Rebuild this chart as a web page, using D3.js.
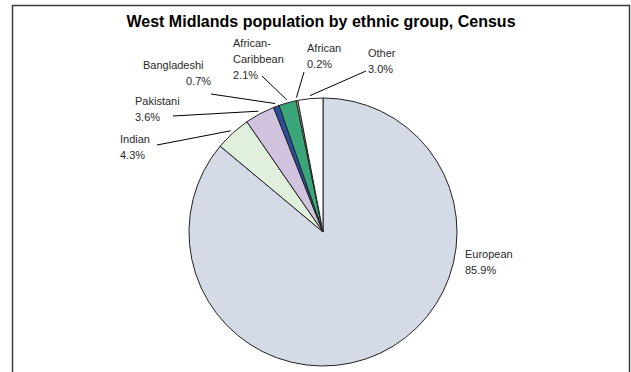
<!DOCTYPE html>
<html>
<head>
<meta charset="utf-8">
<script src="https://cdn.jsdelivr.net/npm/d3@7/dist/d3.min.js"></script>
<style>
  html, body { margin: 0; padding: 0; background: #fff; }
  svg { display: block; }
  text { font-family: "Liberation Sans", Arial, sans-serif; }
</style>
</head>
<body>
<svg id="chart" width="631" height="372"></svg>
<script>
// Census shares by ethnic group, clockwise from 12 o'clock
const categories = ["European", "Indian", "Pakistani", "Bangladeshi", "African-Caribbean", "African", "Other"];
const shares = [85.9, 4.3, 3.6, 0.7, 2.1, 0.2, 3.0];
const sliceColors = ["#d5dae7", "#e1efdd", "#d1c2de", "#2b4d9f", "#3aa67a", "#f6eaa3", "#ffffff"];

// Label placement: first-line x/baseline, value-line x, leader-line tip
const labelLayout = [
  { x: 465, y: 258, vx: 465, tipX: null, tipY: null },
  { x: 120, y: 143, vx: 120, tipX: 157, tipY: 145 },
  { x: 135, y: 105, vx: 135, tipX: 173, tipY: 116 },
  { x: 143, y: 69,  vx: 186, tipX: 211, tipY: 94 },
  { x: 233, y: 47,  vx: 233, tipX: 262, tipY: 76 },
  { x: 307, y: 52,  vx: 307, tipX: 304, tipY: 72 },
  { x: 368, y: 57,  vx: 368, tipX: 366, tipY: 71 }
];

const svg = d3.select("#chart");
const cx = 323, cy = 232, r = 134;

// Chart frame
svg.append("rect")
  .attr("x", 12.5).attr("y", 5.5)
  .attr("width", 617).attr("height", 420)
  .attr("fill", "none").attr("stroke", "#3a3a3a").attr("stroke-width", 1.5);

// Title
svg.append("text")
  .attr("x", 321).attr("y", 27)
  .attr("text-anchor", "middle")
  .attr("font-size", 16).attr("font-weight", "bold")
  .attr("fill", "#000")
  .text("West Midlands population by ethnic group, Census");

const data = categories.map((c, i) => ({ name: c, value: shares[i], color: sliceColors[i], layout: labelLayout[i] }));

const pie = d3.pie().value(d => d.value).sort(null).startAngle(0).endAngle(2 * Math.PI);
const arcs = pie(data);
const arc = d3.arc().innerRadius(0).outerRadius(r);

const g = svg.append("g").attr("transform", `translate(${cx},${cy})`);

g.selectAll("path.slice")
  .data(arcs)
  .join("path")
  .attr("class", "slice")
  .attr("d", arc)
  .attr("fill", d => d.data.color)
  .attr("stroke", "#222")
  .attr("stroke-width", 1)
  .attr("stroke-linejoin", "round");

// Leader lines from just outside each slice to its label
const leaderR = r + 3;
arcs.forEach(a => {
  const L = a.data.layout;
  if (L.tipX === null) return;
  const mid = (a.startAngle + a.endAngle) / 2;
  const px = cx + leaderR * Math.sin(mid);
  const py = cy - leaderR * Math.cos(mid);
  svg.append("line")
    .attr("x1", L.tipX).attr("y1", L.tipY)
    .attr("x2", px).attr("y2", py)
    .attr("stroke", "#000").attr("stroke-width", 1);
});

// Category and percentage labels
const lineH = 16;
arcs.forEach(a => {
  const L = a.data.layout;
  const nameLines = a.data.name === "African-Caribbean" ? ["African-", "Caribbean"] : [a.data.name];
  const t = svg.append("text").attr("font-size", 11).attr("fill", "#2a2a2a");
  nameLines.forEach((ln, k) => {
    t.append("tspan").attr("x", L.x).attr("y", L.y + k * lineH).text(ln);
  });
  t.append("tspan")
    .attr("x", L.vx)
    .attr("y", L.y + nameLines.length * lineH)
    .text(a.data.value.toFixed(1) + "%");
});
</script>
</body>
</html>
